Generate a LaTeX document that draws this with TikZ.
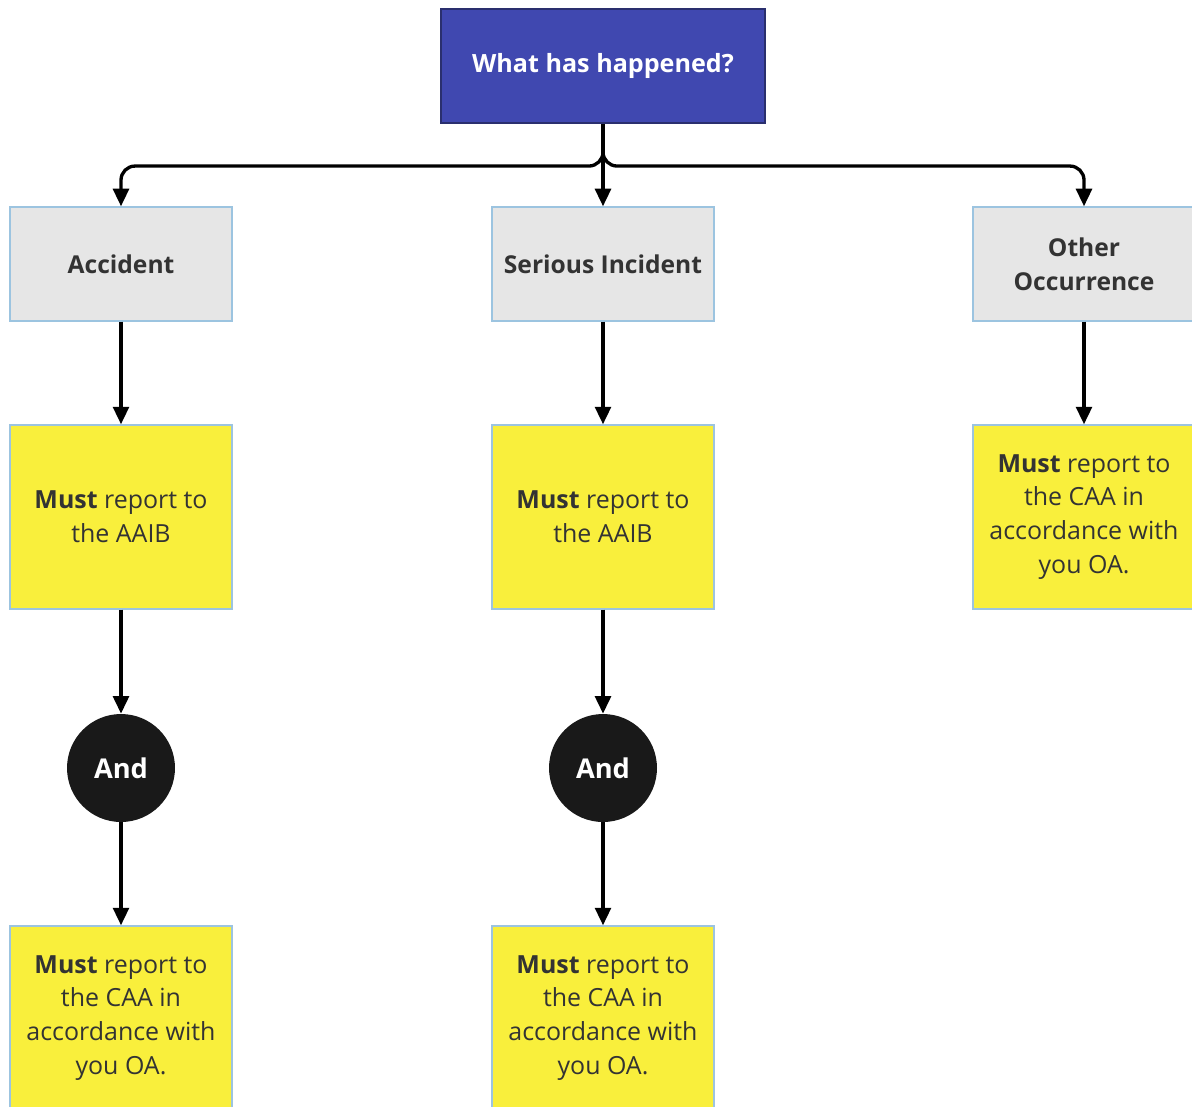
\documentclass[tikz,border=0pt]{standalone}
\usepackage{fontspec}
\setmainfont{Open Sans}
\usetikzlibrary{arrows.meta}
\definecolor{headblue}{HTML}{4048B0}
\definecolor{headedge}{HTML}{2A2F6E}
\definecolor{greyfill}{HTML}{E6E6E6}
\definecolor{edgeblue}{HTML}{9CC4E0}
\definecolor{notefill}{HTML}{F9EF3C}
\definecolor{textgrey}{HTML}{333333}
\tikzset{
    headbox/.style={draw=headedge, line width=1.2pt, fill=headblue, text=white,
        minimum width=6.48cm, minimum height=2.28cm, font=\fontsize{14.3}{19.3}\selectfont\bfseries},
    greybox/.style={draw=edgeblue, line width=0.8pt, fill=greyfill, text=textgrey, align=center,
        minimum width=4.44cm, minimum height=2.28cm, font=\fontsize{14}{19.3}\selectfont\bfseries},
    notebox/.style={draw=edgeblue, line width=0.8pt, fill=notefill, text=textgrey, align=center,
        minimum width=4.44cm, minimum height=3.68cm, font=\fontsize{14.2}{19.3}\selectfont},
    andnode/.style={circle, fill=black!90, text=white, minimum size=2.16cm, inner sep=0pt,
        font=\fontsize{15.5}{18}\selectfont\bfseries},
    arr/.style={line width=1.9pt, -{Triangle[length=10pt, width=9pt]}}
}
\begin{document}
\begin{tikzpicture}[x=0.02cm, y=-0.02cm]
    \useasboundingbox (0, 0) rectangle (1192, 1106);

    \node[headbox] (what) at (603, 66) {What has happened?};

    \node[greybox] (acc) at (121, 264) {Accident};
    \node[greybox] (ser) at (603, 264) {Serious Incident};
    \node[greybox] (oth) at (1084, 264) {Other\\Occurrence};

    \node[notebox] (accaaib) at (121, 517) {\textbf{Must} report to\\the AAIB};
    \node[notebox] (seraaib) at (603, 517) {\textbf{Must} report to\\the AAIB};
    \node[notebox] (othcaa) at (1084, 517) {\textbf{Must} report to\\the CAA in\\accordance with\\you OA.};

    \node[andnode] (accand) at (121, 768) {And};
    \node[andnode] (serand) at (603, 768) {And};

    \node[notebox] (acccaa) at (121, 1018) {\textbf{Must} report to\\the CAA in\\accordance with\\you OA.};
    \node[notebox] (sercaa) at (603, 1018) {\textbf{Must} report to\\the CAA in\\accordance with\\you OA.};

    \draw[arr, rounded corners=8pt] (what.south) -- ++(0, 42) -| (acc.north);
    \draw[arr, rounded corners=8pt] (what.south) -- ++(0, 42) -| (oth.north);
    \draw[arr] (what.south) -- (ser.north);

    \draw[arr] (acc) -- (accaaib);
    \draw[arr] (ser) -- (seraaib);
    \draw[arr] (oth) -- (othcaa);

    \draw[arr] (accaaib) -- (accand);
    \draw[arr] (seraaib) -- (serand);

    \draw[arr] (accand) -- (acccaa);
    \draw[arr] (serand) -- (sercaa);
\end{tikzpicture}
\end{document}
